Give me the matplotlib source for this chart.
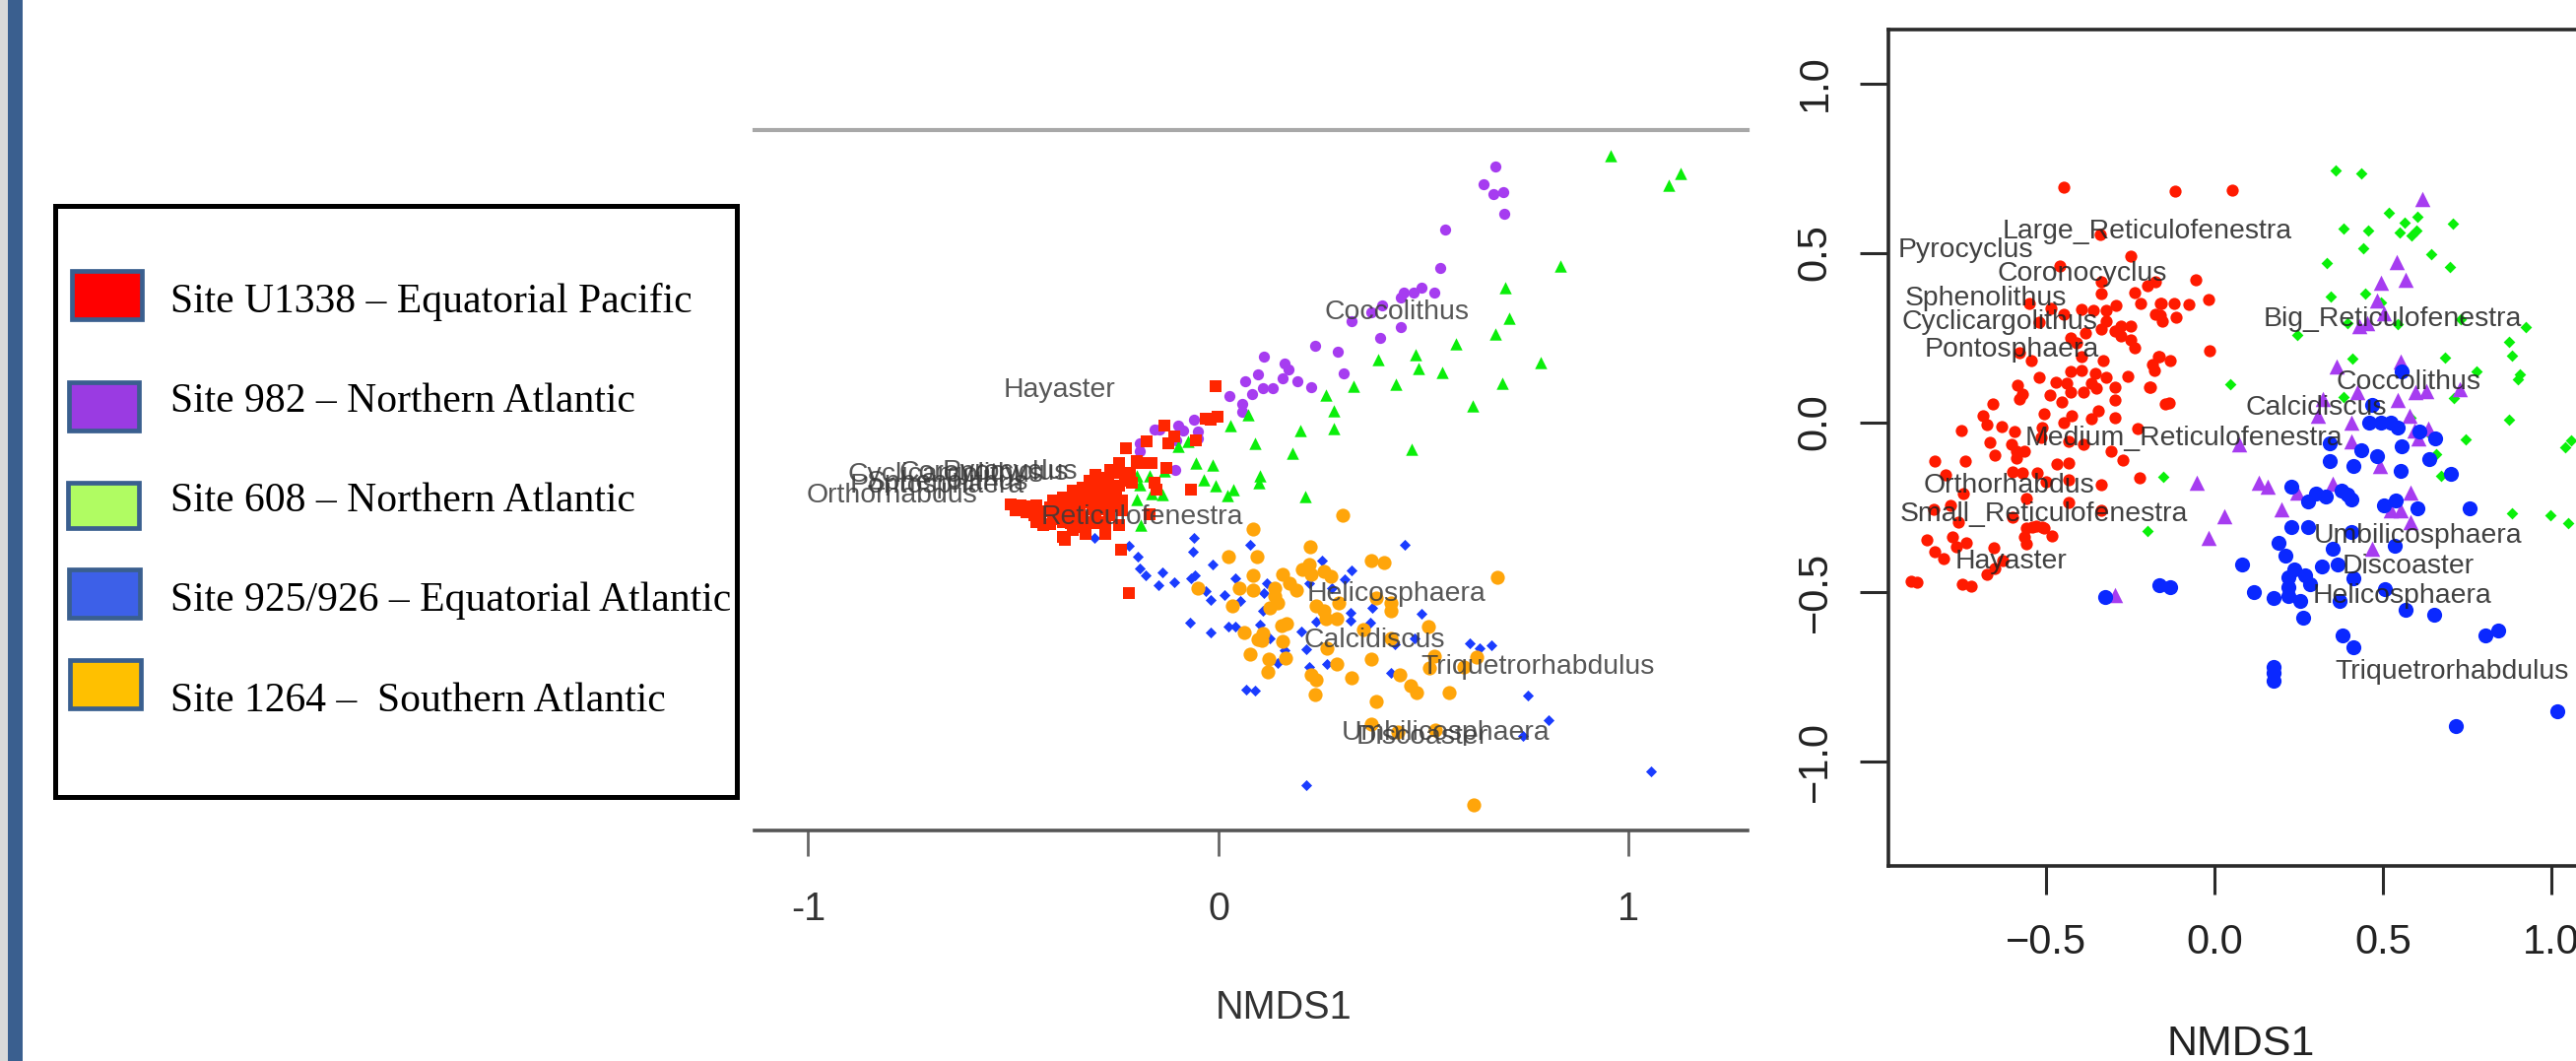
import numpy as np
import matplotlib
matplotlib.use("Agg")
import matplotlib.pyplot as plt
from matplotlib.patches import Rectangle

# -----------------------------
# Legend content
# -----------------------------
legend_labels = [
    "Site U1338 – Equatorial Pacific",
    "Site 982 – Northern Atlantic",
    "Site 608 – Northern Atlantic",
    "Site 925/926 – Equatorial Atlantic",
    "Site 1264 –  Southern Atlantic",
]
legend_colors = ["#ff0000", "#9a3be2", "#b0fc62", "#3d60e8", "#ffc000"]

# -----------------------------
# Left panel: site scores (NMDS1, NMDS2)
# -----------------------------
left_red = [
    (-0.007, 0.205), (-0.003, 0.129), (-0.031, 0.125), (-0.019, 0.122), (-0.131, 0.109),
    (-0.107, 0.081), (-0.123, 0.065), (-0.175, 0.070), (-0.226, 0.053), (-0.055, 0.073),
    (-0.067, -0.047), (-0.155, -0.031), (-0.151, -0.047), (-0.199, 0.021), (-0.187, 0.017),
    (-0.163, 0.018), (-0.243, 0.017), (-0.127, 0.005), (-0.263, 0.001), (-0.243, -0.007),
    (-0.215, -0.007), (-0.299, -0.011), (-0.227, -0.027), (-0.275, -0.019), (-0.315, -0.027),
    (-0.211, -0.031), (-0.291, -0.035), (-0.331, -0.043), (-0.243, -0.039), (-0.267, -0.047),
    (-0.355, -0.051), (-0.315, -0.055), (-0.283, -0.063), (-0.379, -0.067), (-0.347, -0.071),
    (-0.299, -0.075), (-0.267, -0.075), (-0.235, -0.075), (-0.403, -0.075), (-0.507, -0.083),
    (-0.483, -0.087), (-0.443, -0.087), (-0.411, -0.091), (-0.379, -0.091), (-0.339, -0.091),
    (-0.307, -0.095), (-0.275, -0.095), (-0.235, -0.099), (-0.495, -0.099), (-0.467, -0.103),
    (-0.435, -0.107), (-0.403, -0.111), (-0.371, -0.111), (-0.331, -0.115), (-0.299, -0.111),
    (-0.267, -0.111), (-0.167, -0.107), (-0.443, -0.127), (-0.411, -0.131), (-0.379, -0.127),
    (-0.347, -0.127), (-0.315, -0.127), (-0.275, -0.127), (-0.243, -0.135), (-0.427, -0.135),
    (-0.355, -0.147), (-0.323, -0.155), (-0.379, -0.163), (-0.375, -0.171), (-0.275, -0.155),
    (-0.238, -0.194), (-0.219, -0.299), (-0.339, -0.055), (-0.371, -0.079), (-0.283, -0.031),
    (-0.307, -0.047), (-0.460, -0.090), (-0.420, -0.100), (-0.390, -0.100), (-0.360, -0.100),
    (-0.320, -0.080), (-0.290, -0.090), (-0.250, -0.090), (-0.250, -0.060), (-0.330, -0.070),
    (-0.360, -0.070), (-0.300, -0.030), (-0.270, -0.020), (-0.400, -0.120), (-0.360, -0.130),
    (-0.330, -0.140), (-0.300, -0.130), (-0.470, -0.090), (-0.450, -0.110),
]
left_purple = [
    (0.675, 0.739), (0.647, 0.697), (0.671, 0.673), (0.695, 0.676), (0.697, 0.625), (0.553, 0.587),
    (0.540, 0.492), (0.495, 0.444), (0.525, 0.431), (0.475, 0.431), (0.451, 0.433), (0.443, 0.421),
    (0.399, 0.401), (0.371, 0.383), (0.323, 0.363), (0.444, 0.347), (0.393, 0.321), (0.236, 0.303),
    (0.291, 0.287), (0.111, 0.275), (0.162, 0.260), (0.170, 0.245), (0.097, 0.234), (0.305, 0.235),
    (0.155, 0.223), (0.192, 0.215), (0.065, 0.215), (0.225, 0.201), (0.133, 0.199), (0.107, 0.199),
    (0.082, 0.185), (0.057, 0.161), (0.057, 0.141), (0.026, 0.179), (-0.059, 0.123), (-0.099, 0.109),
    (-0.087, 0.097), (-0.155, 0.098), (-0.143, 0.098), (-0.051, 0.093), (-0.051, 0.077), (-0.103, 0.073),
    (-0.191, 0.065), (-0.191, 0.045), (-0.106, 0.001), (-0.275, -0.043),
]
left_green = [
    (0.955, 0.765), (1.125, 0.723), (1.097, 0.693), (0.833, 0.497), (0.699, 0.443), (0.709, 0.369),
    (0.674, 0.331), (0.579, 0.307), (0.785, 0.261), (0.479, 0.281), (0.390, 0.269), (0.487, 0.247),
    (0.545, 0.237), (0.691, 0.212), (0.329, 0.205), (0.431, 0.209), (0.262, 0.182), (0.620, 0.157),
    (0.281, 0.145), (0.073, 0.135), (0.281, 0.101), (0.199, 0.095), (0.089, 0.065), (0.471, 0.050),
    (0.181, 0.041), (0.101, -0.014), (0.099, -0.031), (0.211, -0.066), (0.030, 0.107), (-0.075, 0.069),
    (-0.099, 0.057), (-0.055, 0.017), (-0.015, 0.013), (-0.131, -0.002), (-0.199, -0.014), (-0.167, -0.014),
    (-0.035, -0.023), (-0.191, -0.035), (-0.007, -0.039), (0.035, -0.047), (0.021, -0.063), (-0.163, -0.058),
    (-0.138, -0.061), (-0.199, -0.073), (-0.189, -0.135),
]
left_blue = [
    (-0.303, -0.165), (-0.219, -0.186), (-0.198, -0.211), (-0.193, -0.240), (-0.178, -0.257), (-0.138, -0.250),
    (-0.147, -0.280), (-0.107, -0.274), (-0.061, -0.165), (-0.063, -0.200), (-0.015, -0.231), (0.077, -0.182),
    (-0.058, -0.257), (-0.067, -0.265), (-0.031, -0.295), (-0.019, -0.316), (0.015, -0.305), (0.042, -0.265),
    (0.054, -0.319), (-0.069, -0.373), (-0.019, -0.395), (0.025, -0.382), (0.041, -0.382), (0.067, -0.535),
    (0.089, -0.538), (0.253, -0.222), (0.325, -0.245), (0.307, -0.267), (0.118, -0.277), (0.221, -0.275),
    (0.277, -0.287), (0.110, -0.301), (0.107, -0.343), (0.375, -0.335), (0.321, -0.349), (0.321, -0.367),
    (0.495, -0.351), (0.238, -0.369), (0.369, -0.371), (0.102, -0.377), (0.201, -0.394), (0.126, -0.410),
    (0.429, -0.425), (0.477, -0.411), (0.613, -0.423), (0.637, -0.434), (0.665, -0.427), (0.213, -0.438),
    (0.161, -0.439), (0.145, -0.471), (0.222, -0.479), (0.265, -0.474), (0.421, -0.494), (0.755, -0.549),
    (0.805, -0.611), (0.741, -0.649), (1.055, -0.735), (0.213, -0.768), (0.453, -0.183),
]
left_orange = [
    (0.085, -0.143), (0.025, -0.211), (0.094, -0.211), (0.083, -0.257), (-0.050, -0.288), (0.050, -0.289),
    (0.083, -0.292), (0.034, -0.332), (0.063, -0.397), (0.097, -0.414), (0.077, -0.450), (0.371, -0.222),
    (0.403, -0.226), (0.679, -0.262), (0.222, -0.231), (0.205, -0.243), (0.225, -0.255), (0.257, -0.247),
    (0.273, -0.259), (0.157, -0.255), (0.173, -0.275), (0.189, -0.294), (0.137, -0.287), (0.137, -0.307),
    (0.145, -0.323), (0.125, -0.335), (0.385, -0.311), (0.421, -0.323), (0.421, -0.343), (0.293, -0.323),
    (0.238, -0.331), (0.257, -0.343), (0.262, -0.363), (0.289, -0.363), (0.511, -0.381), (0.353, -0.389),
    (0.153, -0.379), (0.165, -0.374), (0.107, -0.399), (0.105, -0.415), (0.157, -0.417), (0.421, -0.411),
    (0.265, -0.435), (0.525, -0.454), (0.629, -0.455), (0.123, -0.461), (0.163, -0.459), (0.371, -0.461),
    (0.289, -0.473), (0.513, -0.483), (0.597, -0.481), (0.121, -0.491), (0.225, -0.499), (0.238, -0.511),
    (0.325, -0.507), (0.441, -0.499), (0.469, -0.526), (0.483, -0.543), (0.561, -0.542), (0.235, -0.547),
    (0.385, -0.565), (0.373, -0.619), (0.437, -0.639), (0.529, -0.634), (0.623, -0.817), (0.303, -0.111),
    (0.223, -0.187),
]
left_taxa = [
    ("Coccolithus", 0.435, 0.385), ("Hayaster", -0.387, 0.194), ("Reticulofenestra", -0.187, -0.115),
    ("Orthorhabdus", -0.795, -0.063), ("Cyclicargolithus", -0.665, -0.011), ("Coronocyclus", -0.571, -0.007),
    ("Pyrocyclus", -0.507, -0.005), ("Pontosphaera", -0.687, -0.039), ("Sphenolithus", -0.661, -0.031),
    ("Helicosphaera", 0.433, -0.303), ("Calcidiscus", 0.381, -0.415), ("Triquetrorhabdulus", 0.777, -0.479),
    ("Umbilicosphaera", 0.553, -0.641), ("Discoaster", 0.497, -0.651),
]

# -----------------------------
# Right panel: site scores (NMDS1, NMDS2)
# -----------------------------
right_red = [
    (-0.447, 0.692), (-0.340, 0.555), (-0.250, 0.489), (-0.460, 0.462), (-0.335, 0.414), (-0.337, 0.379),
    (-0.238, 0.382), (-0.218, 0.349), (-0.199, 0.404), (-0.174, 0.414), (-0.550, 0.349), (-0.486, 0.336),
    (-0.447, 0.319), (-0.394, 0.334), (-0.360, 0.329), (-0.321, 0.329), (-0.292, 0.344), (-0.160, 0.349),
    (-0.174, 0.319), (-0.155, 0.299), (-0.520, 0.294), (-0.321, 0.299), (-0.335, 0.274), (-0.296, 0.269),
    (-0.277, 0.284), (-0.248, 0.284), (-0.277, 0.254), (-0.248, 0.244), (-0.238, 0.219), (-0.384, 0.264),
    (-0.428, 0.249), (-0.408, 0.234), (-0.579, 0.204), (-0.545, 0.182), (-0.330, 0.182), (-0.394, 0.194),
    (-0.165, 0.194), (-0.184, 0.169), (-0.179, 0.154), (-0.520, 0.131), (-0.472, 0.119), (-0.428, 0.149),
    (-0.394, 0.154), (-0.355, 0.144), (-0.438, 0.114), (-0.365, 0.114), (-0.321, 0.132), (-0.257, 0.134),
    (-0.194, 0.104), (-0.296, 0.104), (-0.584, 0.109), (-0.569, 0.084), (-0.579, 0.069), (-0.487, 0.079),
    (-0.428, 0.089), (-0.389, 0.089), (-0.350, 0.099), (-0.452, 0.059), (-0.296, 0.064), (-0.657, 0.054),
    (-0.145, 0.054), (-0.686, 0.019), (-0.676, -0.006), (-0.506, 0.024), (-0.423, 0.019), (-0.447, -0.001),
    (-0.345, 0.034), (-0.365, 0.009), (-0.296, 0.014), (-0.752, -0.024), (-0.631, -0.014), (-0.594, -0.028),
    (-0.511, -0.016), (-0.516, -0.046), (-0.228, -0.018), (-0.667, -0.061), (-0.603, -0.066), (-0.652, -0.096),
    (-0.589, -0.086), (-0.564, -0.086), (-0.433, -0.056), (-0.389, -0.066), (-0.306, -0.086), (-0.272, -0.111),
    (-0.830, -0.114), (-0.740, -0.114), (-0.589, -0.106), (-0.467, -0.124), (-0.433, -0.121), (-0.223, -0.163),
    (-0.798, -0.156), (-0.599, -0.146), (-0.569, -0.151), (-0.525, -0.151), (-0.501, -0.176), (-0.433, -0.171),
    (-0.335, -0.186), (-0.745, -0.211), (-0.559, -0.226), (-0.433, -0.236), (-0.832, -0.256), (-0.784, -0.246),
    (-0.599, -0.281), (-0.335, -0.261), (-0.759, -0.296), (-0.540, -0.311), (-0.511, -0.311), (-0.559, -0.312),
    (-0.530, -0.307), (-0.506, -0.312), (-0.564, -0.338), (-0.481, -0.336), (-0.559, -0.359), (-0.855, -0.346),
    (-0.779, -0.338), (-0.737, -0.357), (-0.766, -0.367), (-0.654, -0.372), (-0.830, -0.383), (-0.803, -0.402),
    (-0.628, -0.409), (-0.652, -0.431), (-0.676, -0.450), (-0.901, -0.470), (-0.883, -0.471), (-0.750, -0.478),
    (-0.721, -0.485), (-0.118, 0.682), (0.052, 0.684), (-0.055, 0.419), (-0.018, 0.362), (-0.077, 0.347),
    (-0.120, 0.349), (-0.159, 0.349), (-0.160, 0.315), (-0.113, 0.311), (-0.014, 0.211), (-0.167, 0.194),
    (-0.133, 0.183), (-0.191, 0.102), (-0.135, 0.056),
]
right_green = [
    (0.360, 0.742), (0.436, 0.734), (0.519, 0.618), (0.603, 0.606), (0.708, 0.587), (0.564, 0.589),
    (0.550, 0.559), (0.600, 0.564), (0.586, 0.550), (0.383, 0.570), (0.456, 0.565), (0.442, 0.514),
    (0.644, 0.495), (0.698, 0.459), (0.334, 0.470), (0.345, 0.372), (0.447, 0.380), (0.493, 0.354),
    (0.245, 0.257), (0.396, 0.291), (0.545, 0.288), (0.732, 0.303), (0.924, 0.280), (0.873, 0.236),
    (0.883, 0.196), (0.410, 0.187), (0.685, 0.191), (0.779, 0.151), (0.905, 0.141), (0.902, 0.126),
    (0.048, 0.112), (0.383, 0.075), (0.710, 0.071), (0.873, 0.007), (0.581, 0.012), (0.636, -0.034),
    (0.747, -0.051), (0.659, -0.095), (1.058, -0.053), (1.041, -0.074), (0.672, -0.159), (-0.152, -0.162),
    (0.883, -0.269), (0.998, -0.274), (1.049, -0.297), (-0.199, -0.320),
]
right_purple = [
    (0.618, 0.659), (0.542, 0.472), (0.568, 0.420), (0.495, 0.412), (0.483, 0.359), (0.430, 0.282),
    (0.454, 0.291), (0.503, 0.320), (0.364, 0.165), (0.554, 0.180), (0.425, 0.088), (0.323, 0.068),
    (0.596, 0.088), (0.630, 0.093), (0.727, 0.097), (0.545, 0.065), (0.308, 0.020), (0.405, -0.002),
    (0.579, 0.020), (0.593, -0.024), (0.635, -0.019), (0.605, -0.048), (0.405, -0.058), (0.074, -0.064),
    (0.491, -0.130), (-0.053, -0.179), (0.133, -0.179), (0.157, -0.191), (0.352, -0.181), (0.245, -0.208),
    (0.581, -0.208), (0.199, -0.256), (0.030, -0.278), (0.522, -0.261), (0.552, -0.261), (0.581, -0.295),
    (-0.019, -0.342), (0.467, -0.373), (-0.296, -0.511),
]
right_blue = [
    (0.555, 0.151), (0.467, 0.052), (0.459, -0.002), (0.494, -0.002), (0.523, -0.002), (0.544, -0.017),
    (0.607, -0.029), (0.656, -0.048), (0.557, -0.072), (0.342, -0.063), (0.435, -0.084), (0.481, -0.099),
    (0.636, -0.108), (0.342, -0.116), (0.412, -0.128), (0.552, -0.145), (0.703, -0.153), (0.227, -0.190),
    (0.300, -0.210), (0.330, -0.220), (0.279, -0.234), (0.376, -0.203), (0.396, -0.213), (0.405, -0.227),
    (0.539, -0.232), (0.503, -0.245), (0.603, -0.253), (0.756, -0.253), (0.227, -0.310), (0.279, -0.310),
    (0.405, -0.324), (0.191, -0.356), (0.350, -0.373), (0.534, -0.366), (0.211, -0.395), (0.081, -0.421),
    (0.318, -0.426), (0.366, -0.421), (0.412, -0.462), (-0.165, -0.480), (-0.133, -0.486), (0.118, -0.500),
    (0.176, -0.519), (0.237, -0.436), (0.268, -0.452), (0.220, -0.457), (0.284, -0.478), (0.220, -0.488),
    (0.220, -0.514), (0.253, -0.529), (0.506, -0.493), (0.371, -0.529), (0.568, -0.555), (0.651, -0.569),
    (0.264, -0.576), (0.381, -0.630), (0.412, -0.664), (0.805, -0.630), (0.842, -0.615), (0.175, -0.721),
    (0.175, -0.762), (0.175, -0.741), (0.717, -0.898), (1.018, -0.853), (-0.324, -0.517),
]
right_taxa = [
    ("Large_Reticulofenestra", -0.199, 0.562), ("Pyrocyclus", -0.740, 0.507), ("Coronocyclus", -0.392, 0.437),
    ("Sphenolithus", -0.678, 0.364), ("Cyclicargolithus", -0.637, 0.296), ("Pontosphaera", -0.603, 0.214),
    ("Medium_Reticulofenestra", -0.091, -0.048), ("Orthorhabdus", -0.610, -0.188),
    ("Small_Reticulofenestra", -0.506, -0.272), ("Hayaster", -0.603, -0.411),
    ("Big_Reticulofenestra", 0.530, 0.303), ("Coccolithus", 0.576, 0.117), ("Calcidiscus", 0.303, 0.042),
    ("Umbilicosphaera", 0.605, -0.336), ("Discoaster", 0.576, -0.426), ("Helicosphaera", 0.557, -0.514),
    ("Triquetrorhabdulus", 0.706, -0.736),
]

left_xticks = [-1, 0, 1]
right_xticks = [-0.5, 0.0, 0.5, 1.0]
right_yticks = [-1.0, -0.5, 0.0, 0.5, 1.0]

# -----------------------------
# Figure in pixel units
# -----------------------------
W, H = 2615, 1077
plt.rcParams["font.family"] = ["Liberation Sans", "DejaVu Sans"]
fig = plt.figure(figsize=(W / 100, H / 100), dpi=100, facecolor="white")


def pixel_axes(left, top, right, bottom):
    return fig.add_axes([left / W, 1 - bottom / H, (right - left) / W, (bottom - top) / H])


def scatter(ax, points, **kw):
    xy = np.array(points)
    ax.scatter(xy[:, 0], xy[:, 1], linewidths=0, clip_on=True, **kw)


# -----------------------------
# Background layer: side bar and legend
# -----------------------------
bg = fig.add_axes([0, 0, 1, 1])
bg.set_xlim(0, W)
bg.set_ylim(H, 0)
bg.axis("off")

bg.add_patch(Rectangle((0, 0), 8, H, fc="#d9d9d9", ec="none"))
bg.add_patch(Rectangle((8, 0), 15, H, fc="#3a5f8f", ec="none"))
bg.add_patch(Rectangle((56, 209), 692, 600, fc="white", ec="black", lw=3.6))

swatch_boxes = [(73, 275, 71, 49), (70, 388, 71, 49), (69, 490, 72, 46), (70, 578, 72, 49), (71, 670, 72, 49)]
text_rows = [307, 408, 509, 610, 712]
for label, color, box, row in zip(legend_labels, legend_colors, swatch_boxes, text_rows):
    bg.add_patch(Rectangle(box[:2], box[2], box[3], fc=color, ec="#3a5f8f", lw=3.4))
    bg.text(173, row, label, family="Liberation Serif", fontsize=30, color="black", va="center", ha="left")

# -----------------------------
# Left NMDS panel
# -----------------------------
ax1 = pixel_axes(766, 132, 1774, 843)
ax1.patch.set_alpha(0)
ax1.set_xlim((766 - 1237) / 416.5, (1774 - 1237) / 416.5)
ax1.set_ylim((477 - 843) / 416.5, (477 - 132) / 416.5)

scatter(ax1, left_blue, marker="D", s=32, color="#1a3cff", zorder=2)
scatter(ax1, left_orange, marker="o", s=105, color="#ffa50a", zorder=3)
scatter(ax1, left_purple, marker="o", s=66, color="#a63cf0", zorder=3)
scatter(ax1, left_green, marker="^", s=80, color="#0aee0a", zorder=3)
scatter(ax1, left_red, marker="s", s=70, color="#ff2600", zorder=4)

for name, x, y in left_taxa:
    ax1.text(x, y, name, fontsize=20.4, color="#3a3a3a", alpha=0.85, ha="center", va="center", zorder=5)

for side in ["left", "right"]:
    ax1.spines[side].set_visible(False)
ax1.spines["top"].set_color("#a8a8a8")
ax1.spines["top"].set_linewidth(3)
ax1.spines["bottom"].set_color("#555555")
ax1.spines["bottom"].set_linewidth(2.6)
ax1.set_yticks([])
ax1.set_xticks(left_xticks)
ax1.set_xticklabels(["-1", "0", "1"])
ax1.tick_params(axis="x", length=19, width=2, color="#666666", pad=25, labelsize=28.5, labelcolor="#333333")
ax1.set_xlabel("NMDS1", fontsize=28.5, color="#333333")
ax1.xaxis.set_label_coords((1303 - 766) / (1774 - 766), -(1023 - 843) / (843 - 132), transform=ax1.transAxes)
ax1.xaxis.label.set_va("center")

# -----------------------------
# Right NMDS panel
# -----------------------------
ax2 = pixel_axes(1917, 30, 2640, 879)
ax2.patch.set_alpha(0)
ax2.set_xlim((1917 - 2248) / 342, (2640 - 2248) / 342)
ax2.set_ylim((428.5 - 879) / 344, (428.5 - 30) / 344)

scatter(ax2, right_red, marker="o", s=78, color="#ff1a00", zorder=2)
scatter(ax2, right_green, marker="D", s=36, color="#0af00a", zorder=2)
scatter(ax2, right_purple, marker="^", s=125, color="#a63cf0", zorder=3)
scatter(ax2, right_blue, marker="o", s=120, color="#0a28ff", zorder=4)

for name, x, y in right_taxa:
    ax2.text(x, y, name, fontsize=20.4, color="#202020", alpha=0.85, ha="center", va="center", zorder=5)

for side in ["left", "top", "right", "bottom"]:
    ax2.spines[side].set_linewidth(2.6)
    ax2.spines[side].set_color("#2a2a2a")
ax2.set_xticks(right_xticks)
ax2.set_xticklabels(["−0.5", "0.0", "0.5", "1.0"])
ax2.set_yticks(right_yticks)
ax2.set_yticklabels(["−1.0", "−0.5", "0.0", "0.5", "1.0"], rotation=90, va="center")
ax2.tick_params(axis="both", length=21, width=2.2, color="#2a2a2a", labelsize=30, labelcolor="#222222")
ax2.tick_params(axis="x", pad=21)
ax2.tick_params(axis="y", pad=18)
ax2.set_xlabel("NMDS1", fontsize=31, color="#222222")
ax2.xaxis.set_label_coords((2275 - 1917) / (2640 - 1917), -(1060 - 879) / (879 - 30), transform=ax2.transAxes)
ax2.xaxis.label.set_va("center")

fig.savefig("out.png", dpi=100)
